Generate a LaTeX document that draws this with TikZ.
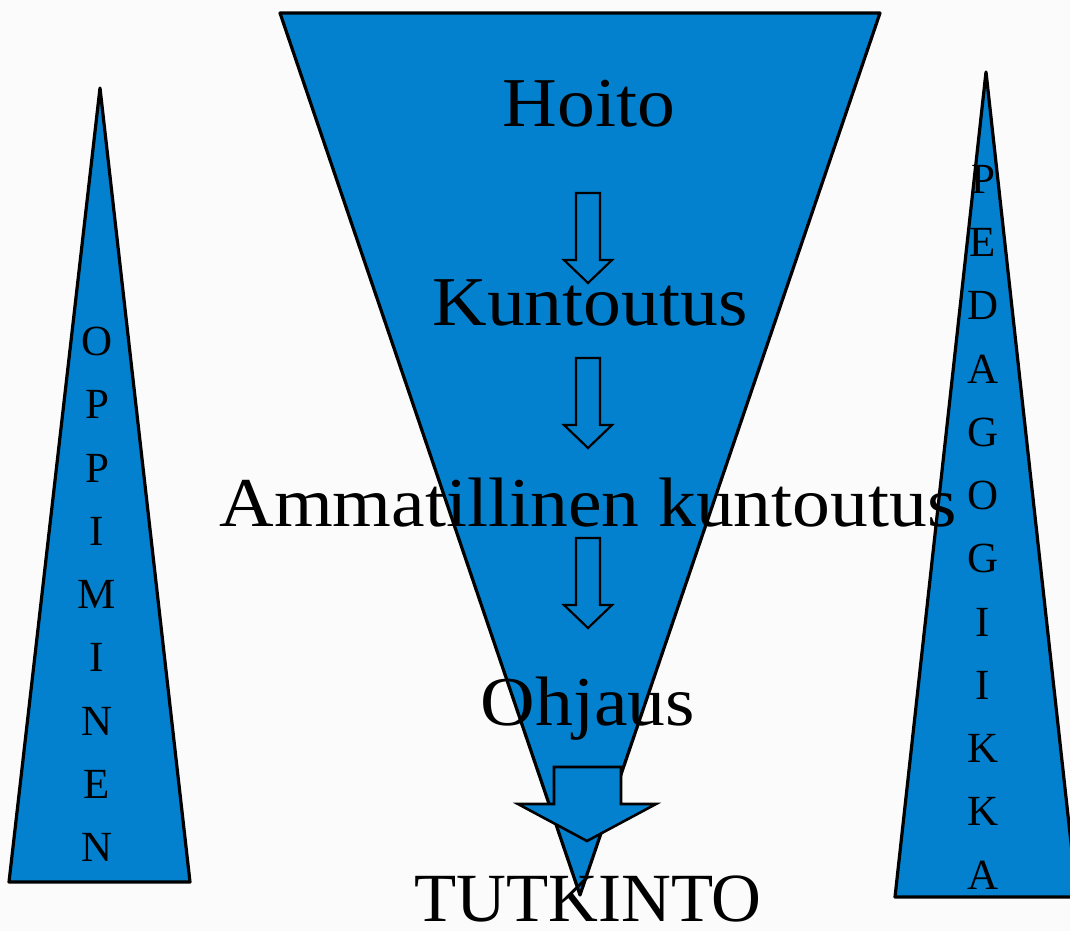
\documentclass[tikz,border=0pt]{standalone}
\usepackage{fontspec}
\setmainfont{Liberation Serif}
\newfontfamily\palfam[FakeStretch=1.08]{Liberation Serif}
\definecolor{triblue}{RGB}{4,129,206}
\definecolor{bgcol}{RGB}{251,251,251}
\newcommand{\palbig}{\palfam\fontsize{70}{80}\selectfont}
\newcommand{\capbig}{\fontsize{69}{80}\selectfont}
\newcommand{\vletters}{\fontsize{43}{63.25}\selectfont}
\begin{document}
\begin{tikzpicture}[x=1pt,y=-1pt,
  tri/.style={fill=triblue,draw=black,line width=3.2pt,line join=round},
  hollow/.style={draw=black,line width=2.2pt,fill=none,line join=miter},
  bigarrow/.style={fill=triblue,draw=black,line width=2.6pt,line join=miter},
  label/.style={anchor=base,inner sep=0pt,font=\palbig},
  vcol/.style={anchor=north,inner sep=0pt,align=center,font=\vletters}]
\fill[bgcol] (0,0) rectangle (1070,931);
\useasboundingbox (0,0) rectangle (1070,931);
% triangles
\draw[tri] (280,13) -- (880,13) -- (580,895) -- cycle;
\draw[tri] (100,88) -- (190,882) -- (9,882) -- cycle;
\draw[tri] (986,72) -- (1077,897) -- (895,897) -- cycle;
% small hollow arrows
\foreach \t/\n in {193/a1,358/a2,538/a3}{
  \draw[hollow] (576,\t) -- (600,\t) -- (600,\t+67) -- (612,\t+67) -- (588,\t+90) -- (564,\t+67) -- (576,\t+67) -- cycle;
}
% labels
\node[label] (hoito) at (589,127) {Hoito};
\node[label] (kunt) at (590,325) {Kuntoutus};
\node[label] (amm) at (588,526) {Ammatillinen kuntoutus};
\node[label] (ohj) at (588,725) {Ohjaus};
% big arrow
\draw[bigarrow] (554,767) -- (621,767) -- (621,804) -- (656,804) -- (587,841) -- (518,804) -- (554,804) -- cycle;
\node[label,font=\capbig] (tut) at (588,921) {TUTKINTO};
% vertical letters
\node[vcol] (opp) at (97,327) {O\\P\\P\\I\\M\\I\\N\\E\\N};
\node[vcol] (ped) at (983,165) {P\\E\\D\\A\\G\\O\\G\\I\\I\\K\\K\\A};
\end{tikzpicture}
\end{document}
